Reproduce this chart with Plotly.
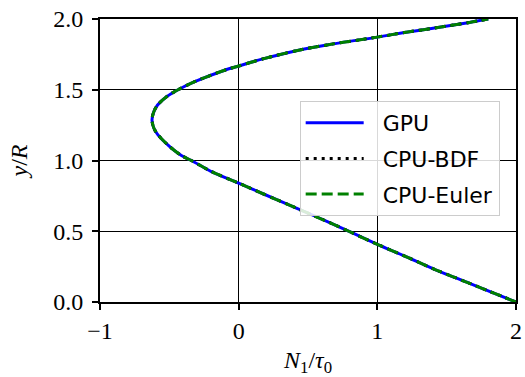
import plotly.graph_objects as go

# values (lower branch -> vertex -> upper branch)
y_R = [0.000, 0.132, 0.226, 0.330, 0.408, 0.561, 0.664, 0.765, 0.840, 0.922,
       1.000, 1.035, 1.098, 1.181, 1.230, 1.285, 1.340, 1.392, 1.451, 1.500,
       1.557, 1.638, 1.668, 1.718, 1.776, 1.820, 1.872, 1.903, 1.938, 1.976, 2.000]
N1_tau0 = [2.000, 1.665, 1.425, 1.185, 1.000, 0.656, 0.416, 0.175, 0.000, -0.197,
           -0.341, -0.413, -0.497, -0.582, -0.612, -0.625, -0.614, -0.585, -0.520, -0.437,
           -0.317, -0.101, 0.000, 0.175, 0.416, 0.656, 1.000, 1.185, 1.425, 1.665, 1.800]

series_names = ["GPU", "CPU-BDF", "CPU-Euler"]
series_colors = ["#0000ff", "#000000", "#008000"]
series_dashes = ["solid", "3px,5px", "11px,5px"]

fig = go.Figure()
for name, color, dash in zip(series_names, series_colors, series_dashes):
    fig.add_trace(go.Scatter(
        x=N1_tau0, y=y_R, mode="lines", name="\u00a0\u00a0" + name, legendgroup=name,
        line=dict(color=color, width=3, dash=dash, shape="spline", smoothing=0.8),
    ))

axis_common = dict(
    showline=True, linecolor="black", linewidth=2, mirror=True,
    showgrid=True, gridcolor="black", gridwidth=1,
    zeroline=False, automargin=False, ticklabeloverflow="allow",
    ticks="outside", ticklen=6, tickwidth=2, tickcolor="black",
    tickfont=dict(family="Liberation Serif", size=24, color="black"),
)

fig.update_layout(
    width=525, height=377,
    margin=dict(l=100, r=9, t=19, b=75),
    paper_bgcolor="white", plot_bgcolor="white",
    xaxis=dict(range=[-1, 2], tickvals=[-1, 0, 1, 2], ticktext=["\u22121", "0", "1", "2"],
               ticklabelstandoff=0,
               title=dict(text="<i>N</i><sub>1</sub>/<i>\u03c4</i><sub>0</sub>",
                          font=dict(family="Liberation Serif", size=24, color="black"),
                          standoff=9),
               **axis_common),
    yaxis=dict(range=[0, 2], tickvals=[0, 0.5, 1.0, 1.5, 2.0],
               ticktext=["0.0", "0.5", "1.0", "1.5", "2.0"],
               ticklabelstandoff=4,
               title=dict(text="<i>y</i>/<i>R</i>",
                          font=dict(family="Liberation Serif", size=24, color="black"),
                          standoff=19),
               **axis_common),
    legend=dict(
        x=0.48, y=0.71, xanchor="left", yanchor="top",
        bgcolor="rgba(255,255,255,0.85)", bordercolor="#cccccc", borderwidth=1,
        font=dict(family="DejaVu Sans", size=22, color="black"),
        tracegroupgap=4, itemwidth=58,
    ),
    showlegend=True,
)

fig.write_html(
    "out.html",
    config={"displayModeBar": False},
    post_script="document.body.style.margin='0';document.body.style.overflow='hidden';",
)
